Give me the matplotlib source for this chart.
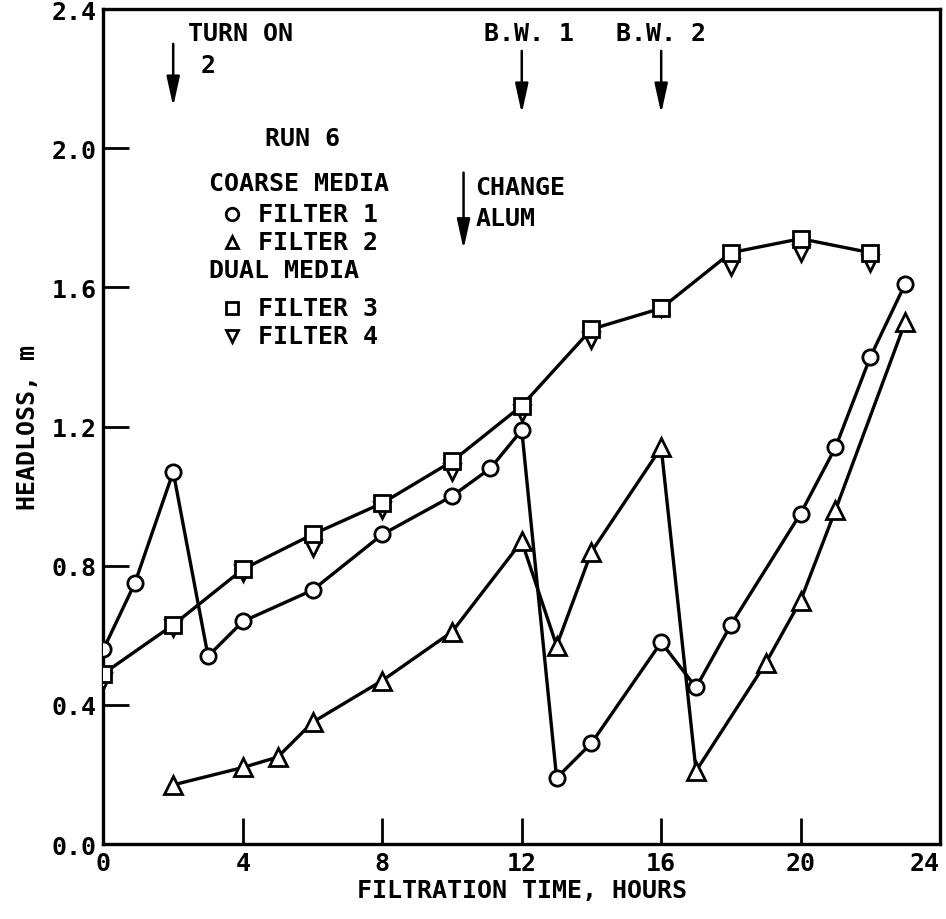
import numpy as np
import matplotlib
matplotlib.use("Agg")
import matplotlib.pyplot as plt

# headloss run 6 (hours, m)
f1_time = [0, 0.9, 2, 3, 4, 6, 8, 10, 11.1, 12, 13, 14, 16, 17, 18, 20, 21, 22, 23]
f1_head = [0.56, 0.75, 1.07, 0.54, 0.64, 0.73, 0.89, 1.00, 1.08, 1.19,
           0.19, 0.29, 0.58, 0.45, 0.63, 0.95, 1.14, 1.40, 1.61]

f2_time = [2, 4, 5, 6, 8, 10, 12, 13, 14, 16, 17, 19, 20, 21, 23]
f2_head = [0.17, 0.22, 0.25, 0.35, 0.47, 0.61, 0.87, 0.57, 0.84, 1.14,
           0.21, 0.52, 0.70, 0.96, 1.50]

f3_time = [0, 2, 4, 6, 8, 10, 12, 14, 16, 18, 20, 22]
f3_head = [0.49, 0.63, 0.79, 0.89, 0.98, 1.10, 1.26, 1.48, 1.54, 1.70, 1.74, 1.70]

f4_time = [0, 2, 4, 6, 8, 10, 12, 14, 16, 18, 20, 22]
f4_head = [0.47, 0.62, 0.78, 0.85, 0.96, 1.07, 1.24, 1.45, 1.54, 1.66, 1.70, 1.67]

x_ticks = [0, 4, 8, 12, 16, 20, 24]
y_ticks = [0.0, 0.4, 0.8, 1.2, 1.6, 2.0, 2.4]

plt.rcParams['font.family'] = ['DejaVu Sans Mono', 'DejaVu Sans']
plt.rcParams['font.size'] = 18
plt.rcParams['font.weight'] = 'bold'
plt.rcParams['axes.labelweight'] = 'bold'

fig = plt.figure(figsize=(9.46, 9.20), dpi=100)
ax = fig.add_axes([0.1094, 0.0815, 0.8843, 0.9075])

lw = 2.4
mk = dict(markerfacecolor='white', markeredgecolor='black', markeredgewidth=2.0, color='black')

ax.plot(f1_time, f1_head, '-', marker='o', markersize=11, lw=lw, zorder=3, **mk)
ax.plot(f2_time, f2_head, '-', marker='^', markersize=13, lw=lw, zorder=3, **mk)
ax.plot(f3_time, f3_head, '-', lw=lw, color='black', zorder=2)
ax.plot(f4_time, f4_head, ' ', marker='v', markersize=12, zorder=4, **mk)
ax.plot(f3_time, f3_head, ' ', marker='s', markersize=11, zorder=5, **mk)

ax.set_xlim(0, 24)
ax.set_ylim(0, 2.4)
ax.set_xticks(x_ticks)
ax.set_yticks(y_ticks)
ax.set_yticklabels(['%.1f' % v for v in y_ticks])
ax.tick_params(direction='in', length=19, width=2.0)
ax.tick_params(axis='x', pad=5)
ax.tick_params(axis='y', pad=5)
ax.get_xticklabels()[-1].set_horizontalalignment('right')
for s in ax.spines.values():
    s.set_linewidth(2.4)

ax.set_xlabel('FILTRATION TIME, HOURS', labelpad=2)
ax.set_ylabel('HEADLOSS, m', labelpad=8)

# event arrows
arrow = dict(arrowstyle='-|>,head_length=1.0,head_width=0.22', lw=1.8, color='black',
             shrinkA=0, shrinkB=0)
ax.annotate('', xy=(2, 2.12), xytext=(2, 2.30), arrowprops=arrow)
ax.annotate('', xy=(12, 2.10), xytext=(12, 2.28), arrowprops=arrow)
ax.annotate('', xy=(16, 2.10), xytext=(16, 2.28), arrowprops=arrow)
ax.annotate('', xy=(10.33, 1.71), xytext=(10.33, 1.93), arrowprops=arrow)

ax.text(2.42, 2.33, 'TURN ON', va='center', ha='left')
ax.text(3.0, 2.24, '2', va='center', ha='center')
ax.text(12.2, 2.33, 'B.W. 1', va='center', ha='center')
ax.text(16.0, 2.33, 'B.W. 2', va='center', ha='center')
ax.text(10.67, 1.89, 'CHANGE', va='center', ha='left')
ax.text(10.67, 1.80, 'ALUM', va='center', ha='left')

# hand drawn legend block
ax.text(5.72, 2.03, 'RUN 6', va='center', ha='center')
ax.text(3.02, 1.90, 'COARSE MEDIA', va='center', ha='left')
ax.text(3.02, 1.65, 'DUAL MEDIA', va='center', ha='left')
legend_rows = [('o', 'FILTER 1', 1.81), ('^', 'FILTER 2', 1.73),
               ('s', 'FILTER 3', 1.54), ('v', 'FILTER 4', 1.46)]
for m, label, yy in legend_rows:
    ax.plot([3.68], [yy], ' ', marker=m, markersize=9, **mk)
    ax.text(4.43, yy, label, va='center', ha='left')

fig.savefig('out.png', dpi=100)
